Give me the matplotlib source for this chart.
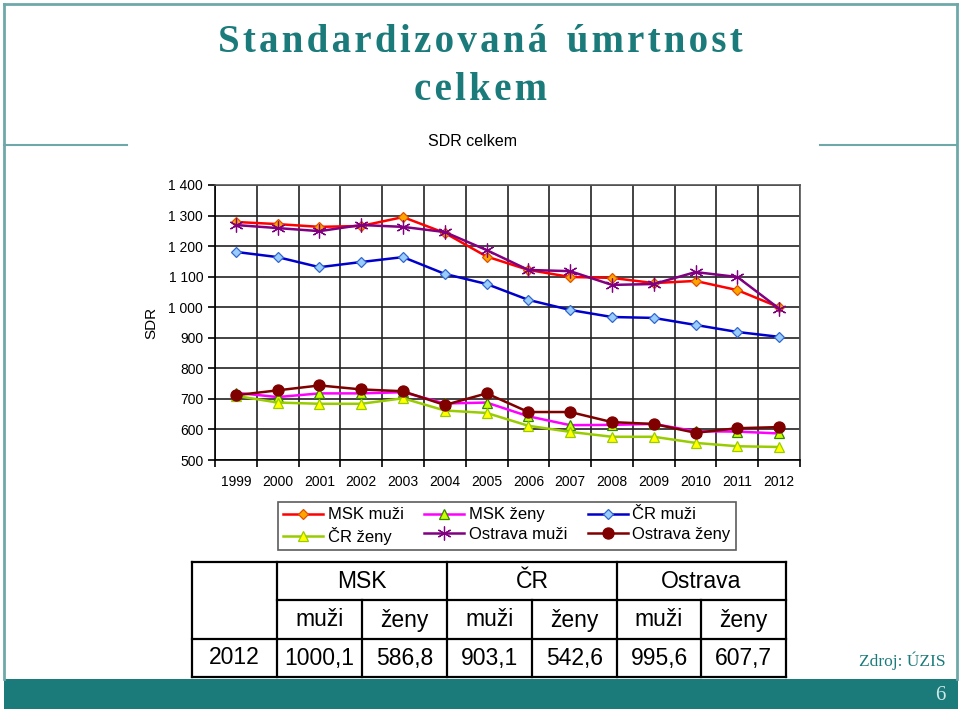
import matplotlib.pyplot as plt
from matplotlib.patches import Rectangle
from matplotlib.ticker import FuncFormatter, FixedLocator
import numpy as np

plt.rcParams['font.family'] = ['Liberation Sans', 'DejaVu Sans']

years = ["1999", "2000", "2001", "2002", "2003", "2004", "2005",
         "2006", "2007", "2008", "2009", "2010", "2011", "2012"]

msk_muzi = [1279, 1272, 1263, 1266, 1295, 1243, 1166, 1122, 1099, 1096, 1079, 1086, 1056, 1000.1]
msk_zeny = [720, 706, 718, 718, 722, 685, 688, 643, 614, 615, 618, 594, 593, 586.8]
cr_muzi = [1181, 1164, 1131, 1148, 1164, 1109, 1076, 1024, 991, 968, 965, 942, 919, 903.1]
cr_zeny = [710, 688, 684, 684, 702, 662, 654, 612, 592, 576, 576, 556, 545, 542.6]
ova_muzi = [1269, 1259, 1249, 1269, 1263, 1246, 1187, 1122, 1118, 1073, 1076, 1115, 1099, 995.6]
ova_zeny = [712, 728, 744, 731, 725, 680, 718, 657, 657, 624, 618, 589, 604, 607.7]

TEAL = "#1b7b7b"
BORDER = "#6fa8a8"


def spaced(s):
    # letter-spaced title text
    return "\u200a".join(s)


fig = plt.figure(figsize=(9.6, 7.11), dpi=100)

# slide decoration layer in pixel coordinates
bg = fig.add_axes([0, 0, 1, 1], zorder=0)
bg.set_xlim(0, 960)
bg.set_ylim(711, 0)
bg.axis("off")
bg.plot([4, 4], [4, 679], color=BORDER, lw=2)
bg.plot([957, 957], [4, 679], color=BORDER, lw=2)
bg.plot([4, 957], [4, 4], color=BORDER, lw=2)
bg.plot([4, 127], [145, 145], color=BORDER, lw=1.5)
bg.plot([820, 957], [145, 145], color=BORDER, lw=1.5)
bg.add_patch(Rectangle((4, 679), 954, 30, facecolor=TEAL, edgecolor="none"))
bg.text(946, 695, "6", color="#cfe8e8", fontsize=15, ha="right", va="center",
        family="Liberation Serif")
bg.text(946, 661, "Zdroj: ÚZIS", color=TEAL, fontsize=12.5, ha="right", va="center",
        family="Liberation Serif")

title_font = ["Liberation Serif", "DejaVu Serif"]
bg.text(480, 43, spaced("Standardizovaná") + "\u2002" + spaced("úmrtnost"), color=TEAL,
        fontsize=28, fontweight="bold", ha="center", va="center", family=title_font)
bg.text(480, 90, spaced("celkem"), color=TEAL, fontsize=28,
        fontweight="bold", ha="center", va="center", family=title_font)
bg.text(472, 142, "SDR celkem", fontsize=11.5, ha="center", va="center")

# table with 2012 values
tfs = 16.5
tx = [192, 277, 362, 447, 532, 617, 701, 786]
ty = [562, 600, 639, 677]
for y in ty:
    x0 = tx[0] if y != 600 else tx[1]
    bg.plot([x0, tx[-1]], [y, y], color="black", lw=1.6)
for i, xx in enumerate(tx):
    y0 = ty[0] if i in (0, 1, 3, 5, 7) else ty[1]
    bg.plot([xx, xx], [y0, ty[-1]], color="black", lw=1.6)
groups = ["MSK", "ČR", "Ostrava"]
for g, name in enumerate(groups):
    bg.text((tx[1 + 2 * g] + tx[3 + 2 * g]) / 2, 582, name, fontsize=tfs,
            ha="center", va="center")
    bg.text((tx[1 + 2 * g] + tx[2 + 2 * g]) / 2, 620, "muži", fontsize=tfs,
            ha="center", va="center")
    bg.text((tx[2 + 2 * g] + tx[3 + 2 * g]) / 2, 620, "ženy", fontsize=tfs,
            ha="center", va="center")
last_vals = [msk_muzi[-1], msk_zeny[-1], cr_muzi[-1], cr_zeny[-1], ova_muzi[-1], ova_zeny[-1]]
bg.text((tx[0] + tx[1]) / 2, 658, years[-1], fontsize=tfs, ha="center", va="center")
for i, v in enumerate(last_vals):
    bg.text((tx[1 + i] + tx[2 + i]) / 2, 658, f"{v:.1f}".replace(".", ","), fontsize=tfs,
            ha="center", va="center")

# chart
ax = fig.add_axes([215 / 960, 1 - 460 / 711, 585 / 960, 275 / 711], zorder=1)
x = np.arange(len(years))

series = [
    ("MSK muži", msk_muzi, "#ff0000", "D", "#ffa500", "#e05000", 5.5),
    ("MSK ženy", msk_zeny, "#ff00ff", "^", "#ccff00", "#338800", 7),
    ("ČR muži", cr_muzi, "#0000cc", "D", "#99ccff", "#3366cc", 5.5),
    ("ČR ženy", cr_zeny, "#99cc00", "^", "#ffff00", "#99cc00", 7),
    ("Ostrava muži", ova_muzi, "#800080", (6, 2, 0), "#800080", "#800080", 10),
    ("Ostrava ženy", ova_zeny, "#800000", "o", "#800000", "#800000", 8),
]
handles = {}
for name, vals, col, mk, fc, ec, ms in series:
    h, = ax.plot(x, vals, color=col, lw=1.8, marker=mk, markerfacecolor=fc,
                 markeredgecolor=ec, markersize=ms, markeredgewidth=0.9, label=name)
    handles[name] = h

ax.set_xlim(-0.5, len(years) - 0.5)
ax.set_ylim(500, 1400)
ax.set_yticks(np.arange(500, 1401, 100))
ax.yaxis.set_major_formatter(FuncFormatter(lambda v, p: f"{int(v):,}".replace(",", " ")))
ax.set_xticks(x)
ax.set_xticklabels(years)
ax.xaxis.set_minor_locator(FixedLocator(np.arange(-0.5, len(years), 1)))
ax.tick_params(axis="x", which="major", length=0, labelsize=10, pad=11)
ax.tick_params(axis="x", which="minor", length=5, width=1.2, direction="out")
ax.tick_params(axis="y", length=5, width=1.2, labelsize=10)
ax.grid(True, axis="y", color="#222222", lw=1.2)
ax.grid(True, axis="x", which="minor", color="#222222", lw=1.2)
ax.set_axisbelow(True)
for s in ("left", "bottom"):
    ax.spines[s].set_linewidth(1.2)
for s in ("top", "right"):
    ax.spines[s].set_color("#555555")
    ax.spines[s].set_linewidth(1.2)
ax.set_ylabel("SDR", fontsize=11, labelpad=7)

order = ["MSK muži", "ČR ženy", "MSK ženy", "Ostrava muži", "ČR muži", "Ostrava ženy"]
leg = fig.legend([handles[k] for k in order], order, ncol=3, loc="center",
                 bbox_to_anchor=(507 / 960, 1 - 526 / 711), fontsize=12, frameon=True,
                 fancybox=False, edgecolor="#333333", handlelength=2.4, columnspacing=1.2,
                 handletextpad=0.3, borderpad=0.3, labelspacing=0.25)
leg.get_frame().set_linewidth(1.2)

fig.savefig("out.png", dpi=100)
